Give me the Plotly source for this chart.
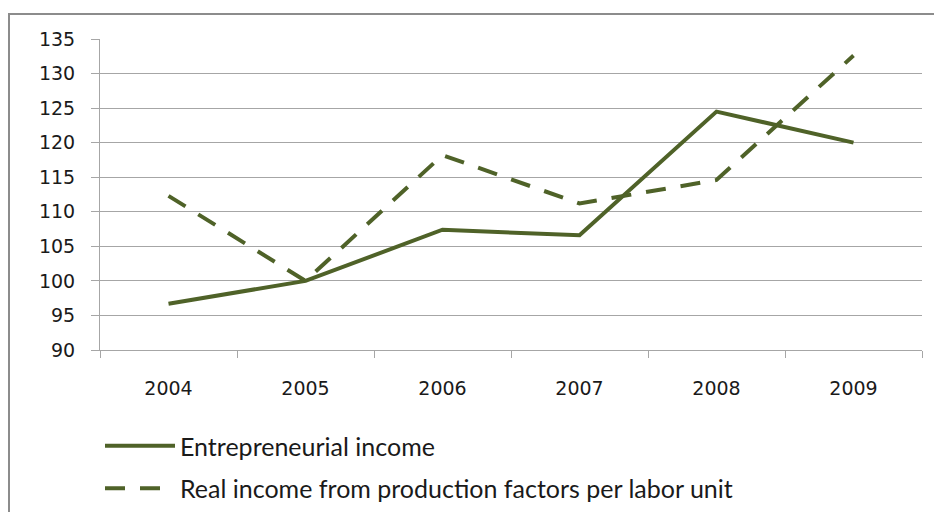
import plotly.graph_objects as go

# Index values by year
years = ["2004", "2005", "2006", "2007", "2008", "2009"]
entrepreneurial_income = [96.7, 100.0, 107.4, 106.6, 124.5, 120.0]
real_income_per_labor_unit = [112.3, 100.0, 118.2, 111.2, 114.6, 132.6]

series_names = [
    "Entrepreneurial income",
    "Real income from production factors per labor unit",
]

LINE_COLOR = "#4F6228"
GRID_COLOR = "#A6A6A6"
TEXT_COLOR = "#1A1A1A"

fig = go.Figure()
fig.add_trace(go.Scatter(
    x=years, y=entrepreneurial_income, mode="lines", name=series_names[0],
    line=dict(color=LINE_COLOR, width=4), legendgroup="a",
))
fig.add_trace(go.Scatter(
    x=years, y=real_income_per_labor_unit, mode="lines", name=series_names[1],
    line=dict(color=LINE_COLOR, width=4, dash="20px,15px"), legendgroup="b",
))

fig.update_layout(
    width=934, height=512,
    margin=dict(l=100, r=12, t=39, b=162, autoexpand=False),
    paper_bgcolor="white", plot_bgcolor="white",
    font=dict(family="DejaVu Sans", color=TEXT_COLOR),
    showlegend=True,
    legend=dict(
        x=0, xanchor="left", y=-0.235, yanchor="top",
        orientation="v", itemwidth=70, tracegroupgap=7,
        font=dict(family="Lato", size=25, color=TEXT_COLOR),
        bgcolor="rgba(0,0,0,0)",
    ),
    xaxis=dict(
        type="category", showgrid=False, showline=True, linecolor=GRID_COLOR, linewidth=1,
        ticks="outside", ticklen=7, tickcolor=GRID_COLOR, tickson="boundaries",
        tickfont=dict(size=19), ticklabelstandoff=21, range=[-0.5, 5.5], fixedrange=True,
    ),
    yaxis=dict(
        range=[90, 135], dtick=5, showgrid=True, gridcolor=GRID_COLOR, gridwidth=1,
        showline=True, linecolor=GRID_COLOR, linewidth=1,
        ticks="outside", ticklen=8, tickcolor=GRID_COLOR,
        tickfont=dict(size=19), ticklabelstandoff=12, zeroline=False,
    ),
    shapes=[dict(
        type="rect", xref="paper", yref="paper",
        x0=-0.1107, x1=1.05, y0=-0.7, y1=1.0804,
        line=dict(color="#8C8C8C", width=2), fillcolor="rgba(0,0,0,0)", layer="below",
    )],
)

fig.write_html("out.html")
